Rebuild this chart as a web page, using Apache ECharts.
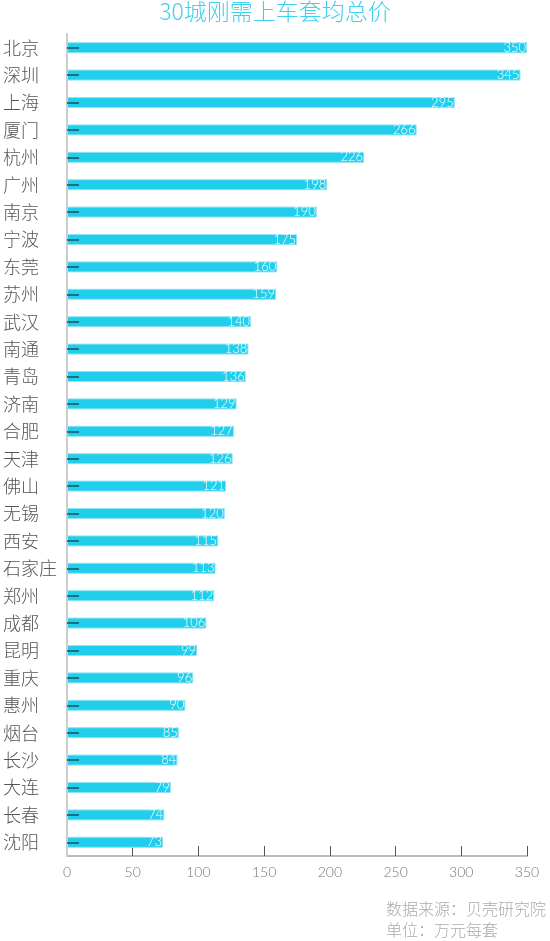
<!DOCTYPE html>
<html>
<head>
<meta charset="utf-8">
<script src="https://cdn.jsdelivr.net/npm/echarts@6/dist/echarts.min.js"></script>
<style>html,body{margin:0;padding:0;background:#fff;}#c{width:550px;height:941px;}</style>
</head>
<body>
<div id="c"></div>
<script>
var cities = ['北京','深圳','上海','厦门','杭州','广州','南京','宁波','东莞','苏州','武汉','南通','青岛','济南','合肥','天津','佛山','无锡','西安','石家庄','郑州','成都','昆明','重庆','惠州','烟台','长沙','大连','长春','沈阳'];
var prices = [350,345,295,266,226,198,190,175,160,159,140,138,136,129,127,126,121,120,115,113,112,106,99,96,90,85,84,79,74,73];
var xTicks = [0,50,100,150,200,250,300,350];
var titleText = '30城刚需上车套均总价';
var sourceText = '数据来源：贝壳研究院';
var unitText = '单位：万元每套';

var chart = echarts.init(document.getElementById('c'));
chart.setOption({
  backgroundColor: '#fff',
  animation: false,
  title: {
    text: titleText,
    left: 'center',
    top: 0,
    padding: 0,
    textStyle: { color: '#3fd0ee', fontSize: 23, fontWeight: 300, fontFamily: 'Noto Sans CJK SC' }
  },
  grid: { left: 66, right: 23, top: 34, bottom: 85 },
  xAxis: {
    type: 'value',
    min: xTicks[0],
    max: xTicks[xTicks.length - 1],
    interval: 50,
    splitLine: { show: false },
    axisLine: { show: true, lineStyle: { color: '#bbbbbb', width: 2 } },
    axisTick: { show: true, inside: true, length: 10, lineStyle: { color: '#555', width: 1 } },
    axisLabel: { color: '#777', fontSize: 14, margin: 9, fontFamily: 'Lato', fontWeight: 300 }
  },
  yAxis: {
    type: 'category',
    inverse: true,
    data: cities,
    z: 5,
    axisLine: { show: true, lineStyle: { color: '#cccccc', width: 2 } },
    axisTick: { show: true, inside: true, alignWithLabel: true, length: 12, lineStyle: { color: '#1d4f5c', width: 1.5 } },
    axisLabel: { color: '#555', fontSize: 18, align: 'left', margin: 64, fontFamily: 'Noto Sans CJK SC', fontWeight: 300 }
  },
  series: [{
    type: 'bar',
    data: prices,
    barWidth: 11,
    itemStyle: { color: '#21cfec', borderColor: '#8fe3f4', borderWidth: 1 },
    label: {
      show: true,
      position: 'insideRight',
      distance: 1,
      color: '#fff',
      fontSize: 13,
      fontWeight: 300,
      fontFamily: 'Lato'
    }
  }],
  graphic: [
    { type: 'text', left: 386, top: 901, style: { text: sourceText, fill: '#aaa', font: '300 16px "Noto Sans CJK SC"' } },
    { type: 'text', left: 386, top: 922, style: { text: unitText, fill: '#aaa', font: '300 16px "Noto Sans CJK SC"' } }
  ]
});
</script>
</body>
</html>
